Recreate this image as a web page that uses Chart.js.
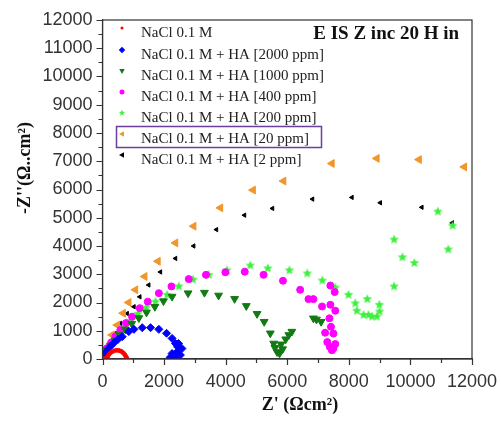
<!DOCTYPE html>
<html>
<head>
<meta charset="utf-8">
<script src="https://cdn.jsdelivr.net/npm/chart.js@4.4.0/dist/chart.umd.min.js"></script>
<style>
  body { margin: 0; background: #fff; }
</style>
</head>
<body>
<canvas id="eis" width="501" height="421"></canvas>
<script>
// series labels
const seriesLabels = [
  'NaCl 0.1 M',
  'NaCl 0.1 M + HA [2000 ppm]',
  'NaCl 0.1 M + HA [1000 ppm]',
  'NaCl 0.1 M + HA [400 ppm]',
  'NaCl 0.1 M + HA [200 ppm]',
  'NaCl 0.1 M + HA [20 ppm]',
  'NaCl 0.1 M + HA [2 ppm]'
];

// axis ticks
const xTicks = [0, 2000, 4000, 6000, 8000, 10000, 12000];
const yTicks = [0, 1000, 2000, 3000, 4000, 5000, 6000, 7000, 8000, 9000, 10000, 11000, 12000];

// Z' / -Z'' values (ohm cm2)
const naclX = [40, 80, 120, 150, 180, 230, 300, 380, 460, 540, 610, 670, 720, 760, 790];
const naclY = [10, 20, 30, 40, 110, 190, 250, 290, 310, 300, 270, 220, 160, 90, 30];

const ha2000X = [60, 150, 260, 380, 500, 640, 855, 1020, 1290, 1560, 1830, 2080, 2260, 2370, 2440, 2420, 2260, 2200, 2370, 2530, 2580, 2470];
const ha2000Y = [160, 300, 450, 580, 690, 790, 970, 1050, 1110, 1110, 1050, 910, 730, 550, 430, 250, 195, 60, 30, 140, 370, 550];

const ha1000X = [60, 150, 260, 400, 560, 740, 950, 1180, 1430, 1700, 1980, 2260, 2780, 3310, 3770, 4290, 4670, 5020, 5250, 5450, 5560, 5670, 5600, 5750, 5850, 5800, 5950, 6050, 6150, 6850, 6950, 7100];
const ha1000Y = [180, 320, 480, 660, 850, 1050, 1250, 1450, 1650, 1850, 2050, 2210, 2330, 2350, 2250, 2130, 1880, 1600, 1320, 910, 550, 250, 400, 200, 350, 520, 700, 850, 970, 1440, 1400, 1320];

const ha400X = [50, 150, 280, 420, 580, 760, 960, 1210, 1470, 1830, 2240, 2800, 3360, 3990, 4620, 5230, 5860, 6420, 6690, 6850, 7130, 7400, 7560, 7400, 7540, 7370, 7420, 7500, 7230, 7300, 7450, 7560, 7380, 7500];
const ha400Y = [200, 380, 580, 800, 1030, 1270, 1500, 1800, 2030, 2330, 2570, 2830, 2980, 3070, 3090, 2980, 2770, 2450, 2120, 2120, 1860, 1920, 1710, 2600, 2370, 1440, 1140, 900, 930, 600, 310, 530, 430, 380];

const ha200X = [60, 180, 320, 480, 680, 900, 1150, 1420, 1720, 2100, 2480, 2940, 3450, 4040, 4800, 5370, 6070, 6650, 7140, 7560, 7990, 8210, 8260, 8480, 8640, 8750, 8910, 9000, 8990, 8600, 9470, 9470, 9740, 10130, 10890, 11230, 11370];
const ha200Y = [200, 400, 620, 850, 1100, 1350, 1600, 1820, 2030, 2270, 2570, 2810, 2980, 3140, 3310, 3210, 3140, 3030, 2780, 2530, 2270, 1970, 1710, 1560, 1560, 1500, 1500, 1680, 1920, 2120, 2570, 4230, 3600, 3400, 5220, 3880, 4720];

const ha20X = [20, 60, 150, 310, 480, 670, 850, 1070, 1370, 1800, 2370, 2960, 3830, 4890, 5880, 7450, 8910, 10280, 11750];
const ha20Y = [30, 250, 430, 850, 1200, 1620, 2000, 2450, 2920, 3460, 4110, 4700, 5350, 5980, 6300, 6920, 7100, 7060, 6800];

const ha2X = [40, 150, 260, 420, 580, 800, 1020, 1210, 1500, 1880, 2370, 2960, 3700, 4610, 5520, 6820, 8100, 9020, 10370, 11360];
const ha2Y = [30, 300, 550, 910, 1260, 1610, 1850, 2200, 2620, 3080, 3560, 4000, 4580, 5090, 5330, 5660, 5720, 5530, 5370, 4820];

const pts = (xs, ys) => xs.map((x, i) => ({ x: x, y: ys[i] }));

// filled five-point star used for the 200 ppm series
function starImg(color, r) {
  const c = document.createElement('canvas');
  c.width = c.height = 2 * r + 2;
  const g = c.getContext('2d');
  g.fillStyle = color;
  g.beginPath();
  for (let i = 0; i < 10; i++) {
    const a = -Math.PI / 2 + i * Math.PI / 5;
    const rr = i % 2 ? r * 0.45 : r;
    g.lineTo(r + 1 + rr * Math.cos(a), r + 1 + rr * Math.sin(a));
  }
  g.closePath();
  g.fill();
  return c;
}

const star = starImg('#3ef03e', 5);

const datasets = [
  { label: seriesLabels[0], data: pts(naclX, naclY), pointStyle: 'circle', pointRadius: 2, backgroundColor: '#ff0000', borderColor: '#ff0000' },
  { label: seriesLabels[1], data: pts(ha2000X, ha2000Y), pointStyle: 'rectRot', pointRadius: 4, backgroundColor: '#0000ff', borderColor: '#0000ff' },
  { label: seriesLabels[2], data: pts(ha1000X, ha1000Y), pointStyle: 'triangle', pointRotation: 180, pointRadius: 4.5, backgroundColor: '#137a13', borderColor: '#137a13' },
  { label: seriesLabels[3], data: pts(ha400X, ha400Y), pointStyle: 'circle', pointRadius: 3.5, backgroundColor: '#ff00ff', borderColor: '#ff00ff' },
  { label: seriesLabels[4], data: pts(ha200X, ha200Y), pointStyle: star, pointRadius: 5, backgroundColor: '#3ef03e', borderColor: '#3ef03e' },
  { label: seriesLabels[5], data: pts(ha20X, ha20Y), pointStyle: 'triangle', pointRotation: -90, pointRadius: 4.5, backgroundColor: '#f0962a', borderColor: '#f0962a' },
  { label: seriesLabels[6], data: pts(ha2X, ha2Y), pointStyle: 'triangle', pointRotation: -90, pointRadius: 2.5, backgroundColor: '#000000', borderColor: '#000000' }
];

// small legend marker, same shapes as the datasets
function drawMarker(ctx, ds, x, y) {
  const r = 2.5;
  ctx.save();
  ctx.translate(x, y);
  ctx.rotate((ds.pointRotation || 0) * Math.PI / 180);
  ctx.fillStyle = ds.backgroundColor;
  ctx.beginPath();
  if (ds.pointStyle === 'triangle') {
    ctx.moveTo(0, -r * 1.2);
    ctx.lineTo(r * 1.1, r * 0.8);
    ctx.lineTo(-r * 1.1, r * 0.8);
    ctx.closePath();
    ctx.fill();
  } else if (ds.pointStyle === 'rectRot') {
    ctx.moveTo(0, -r * 1.3);
    ctx.lineTo(r * 1.3, 0);
    ctx.lineTo(0, r * 1.3);
    ctx.lineTo(-r * 1.3, 0);
    ctx.closePath();
    ctx.fill();
  } else if (ds.pointStyle instanceof HTMLCanvasElement) {
    ctx.drawImage(ds.pointStyle, -4, -4, 8, 8);
  } else {
    ctx.arc(0, 0, ds.pointRadius < 3 ? 1.5 : r, 0, Math.PI * 2);
    ctx.fill();
  }
  ctx.restore();
}

// frame, tick marks, legend, titles
const decor = {
  id: 'decor',
  afterDraw(chart) {
    const ctx = chart.ctx;
    const a = chart.chartArea;
    const xs = chart.scales.x, ys = chart.scales.y;
    ctx.save();
    ctx.strokeStyle = '#333';
    ctx.lineWidth = 1.2;
    ctx.strokeRect(a.left, a.top, a.right - a.left, a.bottom - a.top);

    ctx.beginPath();
    for (let v = 0; v <= 12000; v += 1000) {
      const px = Math.round(xs.getPixelForValue(v)) + 0.5;
      const len = xTicks.includes(v) ? 6 : 4;
      ctx.moveTo(px, a.bottom);
      ctx.lineTo(px, a.bottom + len);
    }
    for (let v = 0; v <= 12000; v += 500) {
      const py = Math.round(ys.getPixelForValue(v)) + 0.5;
      const len = yTicks.includes(v) ? 6 : 4;
      ctx.moveTo(a.left, py);
      ctx.lineTo(a.left - len, py);
    }
    ctx.stroke();

    // legend inside the plot
    const rowY = [33, 55, 76, 97, 118, 139, 160];
    ctx.font = '15px "Liberation Serif"';
    ctx.textAlign = 'left';
    ctx.textBaseline = 'middle';
    chart.data.datasets.forEach((ds, i) => {
      drawMarker(ctx, ds, 122, rowY[i] - 5);
      ctx.fillStyle = '#222';
      ctx.fillText(ds.label, 141, rowY[i]);
    });
    ctx.strokeStyle = '#6b3fa0';
    ctx.lineWidth = 1.5;
    ctx.strokeRect(116.5, 126.5, 205, 21);

    ctx.fillStyle = '#111';
    ctx.font = 'bold 19px "Liberation Serif"';
    ctx.textAlign = 'right';
    ctx.fillText('E IS Z inc 20 H in', 459, 34);

    // axis titles
    ctx.font = 'bold 18px "Liberation Serif"';
    ctx.textAlign = 'center';
    ctx.fillText("Z' (\u03A9cm\u00B2)", 300, 405);
    ctx.translate(25, 168);
    ctx.rotate(-Math.PI / 2);
    ctx.fillText("-Z''(\u03A9..cm\u00B2)", 0, 0);
    ctx.restore();
  }
};

new Chart(document.getElementById('eis'), {
  type: 'scatter',
  data: { datasets: datasets },
  plugins: [decor],
  options: {
    responsive: false,
    animation: false,
    layout: { padding: { top: 20, right: 29, left: 0, bottom: 0 } },
    plugins: { legend: { display: false }, tooltip: { enabled: false } },
    scales: {
      x: {
        type: 'linear',
        min: 0,
        max: 12000,
        afterFit: (s) => { s.height = 62; s.paddingLeft = 0; s.paddingRight = 0; },
        border: { display: true, color: '#333', width: 1.2 },
        grid: { display: false, drawTicks: false },
        ticks: {
          stepSize: 2000,
          autoSkip: false,
          maxRotation: 0,
          padding: 12,
          color: '#333',
          font: { family: 'Liberation Sans', size: 18 },
          callback: (v) => String(v)
        }
      },
      y: {
        type: 'linear',
        min: 0,
        max: 12000,
        afterFit: (s) => { s.width = 102.5; s.paddingTop = 0; s.paddingBottom = 0; },
        border: { display: true, color: '#333', width: 1.2 },
        grid: { display: false, drawTicks: false },
        ticks: {
          stepSize: 1000,
          autoSkip: false,
          padding: 10,
          color: '#333',
          font: { family: 'Liberation Sans', size: 18 },
          callback: (v) => String(v)
        }
      }
    }
  }
});
</script>
</body>
</html>
